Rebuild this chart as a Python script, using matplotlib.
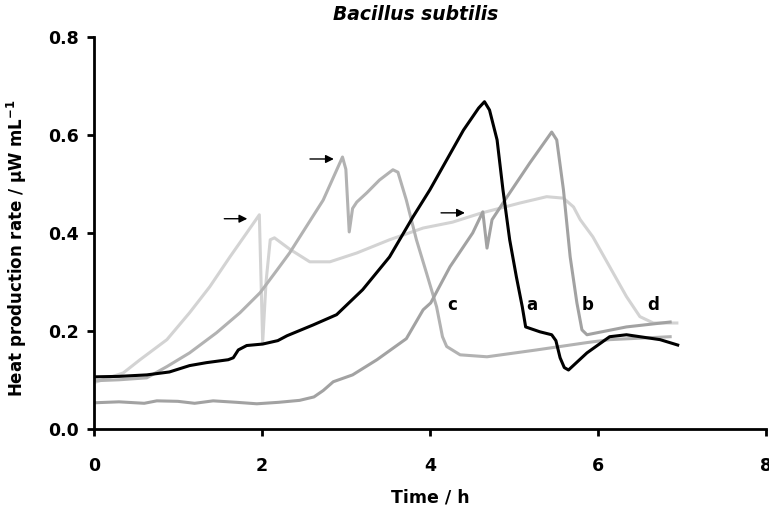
"""Bacillus subtilis heat production curves (a-d)."""
import matplotlib
matplotlib.use("Agg")
import matplotlib.pyplot as plt

plt.rcParams["font.family"] = ["DejaVu Sans"]
plt.rcParams["font.weight"] = "bold"

# curve a (black)
t_a = [0.0, 0.3, 0.63, 0.9, 1.14, 1.34, 1.6, 1.66, 1.72, 1.82, 2.01, 2.19, 2.3, 2.61, 2.89, 3.2,
       3.52, 3.8, 4.0, 4.2, 4.4, 4.58, 4.65, 4.71, 4.8, 4.87, 4.95, 5.03, 5.1, 5.14, 5.31, 5.45,
       5.5, 5.55, 5.6, 5.65, 5.87, 6.14, 6.34, 6.74, 6.95]
v_a = [0.106, 0.107, 0.11, 0.116, 0.129, 0.135, 0.141, 0.145, 0.161, 0.17, 0.173, 0.18, 0.19,
       0.212, 0.233, 0.284, 0.351, 0.433, 0.488, 0.549, 0.61, 0.655, 0.668, 0.651, 0.59, 0.488,
       0.386, 0.31, 0.249, 0.208, 0.198, 0.192, 0.18, 0.145, 0.125, 0.12, 0.155, 0.188, 0.192,
       0.182, 0.171]

# curve b
t_b = [0.0, 0.3, 0.6, 0.75, 1.0, 1.2, 1.42, 1.7, 1.94, 2.2, 2.45, 2.62, 2.73, 2.85, 3.08, 3.37,
       3.72, 3.92, 4.01, 4.24, 4.51, 4.63, 4.68, 4.74, 4.92, 5.19, 5.45, 5.51, 5.59, 5.67, 5.75,
       5.81, 5.87, 6.34, 6.86]
v_b = [0.053, 0.055, 0.052, 0.057, 0.056, 0.052, 0.057, 0.054, 0.051, 0.054, 0.058, 0.065, 0.078,
       0.096, 0.11, 0.141, 0.184, 0.243, 0.257, 0.331, 0.4, 0.443, 0.369, 0.427, 0.474, 0.543,
       0.606, 0.59, 0.488, 0.351, 0.257, 0.202, 0.192, 0.208, 0.218]

# curve c
t_c = [0.0, 0.3, 0.63, 0.87, 1.14, 1.46, 1.74, 1.98, 2.18, 2.33, 2.73, 2.96, 3.0, 3.04, 3.08,
       3.13, 3.25, 3.4, 3.56, 3.62, 3.72, 3.84, 3.96, 4.08, 4.15, 4.2, 4.36, 4.68, 5.27, 5.87,
       6.14, 6.86]
v_c = [0.098, 0.1, 0.104, 0.127, 0.155, 0.196, 0.237, 0.278, 0.324, 0.359, 0.467, 0.555, 0.53,
       0.402, 0.45, 0.463, 0.482, 0.508, 0.529, 0.524, 0.467, 0.386, 0.318, 0.249, 0.188, 0.168,
       0.151, 0.147, 0.161, 0.176, 0.182, 0.188]

# curve d (lightest)
t_d = [0.0, 0.35, 0.55, 0.87, 1.14, 1.38, 1.62, 1.82, 1.97, 2.01, 2.05, 2.1, 2.15, 2.33, 2.57,
       2.81, 3.13, 3.52, 3.92, 4.27, 4.6, 5.07, 5.39, 5.59, 5.71, 5.79, 5.94, 6.14, 6.34, 6.5,
       6.66, 6.94]
v_d = [0.094, 0.114, 0.141, 0.182, 0.237, 0.29, 0.351, 0.4, 0.437, 0.176, 0.3, 0.386, 0.39,
       0.367, 0.341, 0.341, 0.359, 0.386, 0.41, 0.422, 0.44, 0.461, 0.474, 0.471, 0.453, 0.427,
       0.392, 0.331, 0.27, 0.229, 0.216, 0.216]

labels = ["a", "b", "c", "d"]
label_pos = [(5.21, 0.253), (5.88, 0.253), (4.26, 0.253), (6.66, 0.253)]
arrows = [(1.52, 1.86, 0.429), (2.54, 2.89, 0.551), (4.1, 4.45, 0.441)]

fig = plt.figure(figsize=(7.69, 5.08), dpi=100)
ax = fig.add_axes([0.122, 0.156, 0.874, 0.771])

ax.plot(t_d, v_d, color="#d3d3d3", lw=2.2)
ax.plot(t_c, v_c, color="#b2b2b2", lw=2.2)
ax.plot(t_b, v_b, color="#a2a2a2", lw=2.2)
ax.plot(t_a, v_a, color="black", lw=2.2)

for lab, (x, y) in zip(labels, label_pos):
    ax.text(x, y, lab, fontsize=12, fontweight="bold", ha="center", va="center")
for x0, x1, y in arrows:
    ax.annotate("", xy=(x1, y), xytext=(x0, y),
                arrowprops=dict(arrowstyle="-|>", color="black", lw=1.0, mutation_scale=12))

ax.set_xlim(0, 8)
ax.set_ylim(0, 0.8)
ax.set_xticks([0, 2, 4, 6, 8])
ax.set_yticks([0.0, 0.2, 0.4, 0.6, 0.8])
ax.set_yticklabels(["0.0", "0.2", "0.4", "0.6", "0.8"])
for s in ["top", "right"]:
    ax.spines[s].set_visible(False)
for s in ["left", "bottom"]:
    ax.spines[s].set_linewidth(2)
ax.tick_params(direction="out", width=2, length=5, labelsize=12.5)
ax.tick_params(axis="y", pad=6)
ax.tick_params(axis="x", pad=15)
for lbl in ax.get_xticklabels() + ax.get_yticklabels():
    lbl.set_fontweight("bold")

ax.set_xlabel("Time / h", fontsize=12.5, fontweight="bold", labelpad=10)
ax.set_ylabel("Heat production rate / µW mL$^{\\mathbf{-1}}$", fontsize=12, fontweight="bold")
ax.yaxis.set_label_coords(-0.097, 0.46)
ax.set_title("Bacillus subtilis", fontsize=13.5, fontweight="bold", style="italic",
             x=0.479, pad=12)

fig.savefig("out.png", dpi=100)
